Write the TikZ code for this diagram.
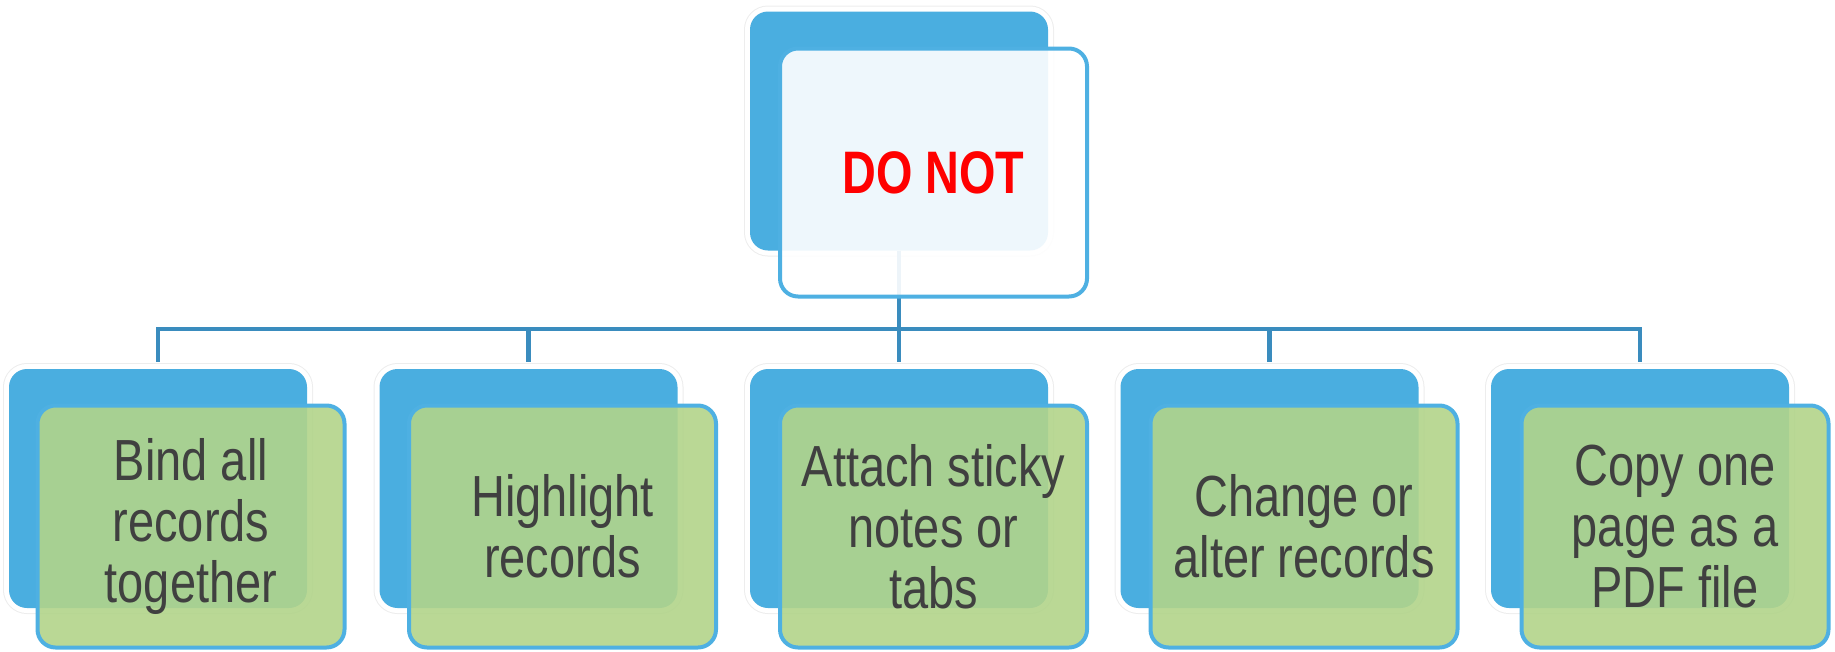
\documentclass[tikz,border=0pt]{standalone}
\usepackage{fontspec}
\newfontfamily\boxfont[FakeStretch=0.81]{Liberation Sans}
\newfontfamily\topfont[FakeStretch=0.78]{Liberation Sans}
\definecolor{backblue}{RGB}{74,174,224}
\definecolor{edgeblue}{RGB}{78,176,226}
\definecolor{connblue}{RGB}{58,140,190}
\definecolor{leafgreen}{RGB}{178,212,138}
\definecolor{txtgrey}{RGB}{64,64,64}
\definecolor{dored}{RGB}{255,0,0}
\tikzset{
  backbox/.style={rectangle, rounded corners=18pt, fill=backblue, draw=none,
    preaction={draw=black!7, line width=12pt},
    preaction={draw=white, line width=10pt},
    minimum width=298pt, minimum height=239pt, inner sep=0pt, outer sep=0pt},
  frontbox/.style={rectangle, rounded corners=18pt, fill=leafgreen, fill opacity=0.9,
    text opacity=1, draw=edgeblue, line width=4pt,
    minimum width=307pt, minimum height=242pt, inner sep=0pt, outer sep=0pt,
    align=center, text=txtgrey, font=\boxfont\fontsize{58}{61}\selectfont},
  topfront/.style={frontbox, fill=white, fill opacity=0.91, minimum height=248pt,
    text=dored, font=\topfont\bfseries\fontsize{60}{62}\selectfont},
  conn/.style={draw=connblue, line width=4.5pt}
}
\begin{document}
\begin{tikzpicture}[x=1pt,y=-1pt]
\useasboundingbox (0,0) rectangle (1835,651);
% top
\node[backbox] (tb) at (899,131) {};
\coordinate (hub) at (899,329);
\draw[conn] (tb.south) -- (hub);
\node[topfront] (tf) at (933.5,172.5) {DO NOT};
% children back boxes
\foreach \i/\cx in {1/158,2/528.5,3/899,4/1269.5,5/1640}{
  \node[backbox] (b\i) at (\cx,488.5) {};
  \draw[conn, shorten >=7pt] (hub) -| (b\i.north);
}
\node[frontbox] (f1) at (191,526.5) {Bind all\\records\\together};
\node[frontbox] (f2) at (562.5,526.5) {Highlight\\records};
\node[frontbox] (f3) at (933.5,526.5) {Attach sticky\\notes or\\tabs};
\node[frontbox] (f4) at (1304,526.5) {Change or\\alter records};
\node[frontbox] (f5) at (1675,526.5) {Copy one\\page as a\\PDF file};
\end{tikzpicture}
\end{document}
